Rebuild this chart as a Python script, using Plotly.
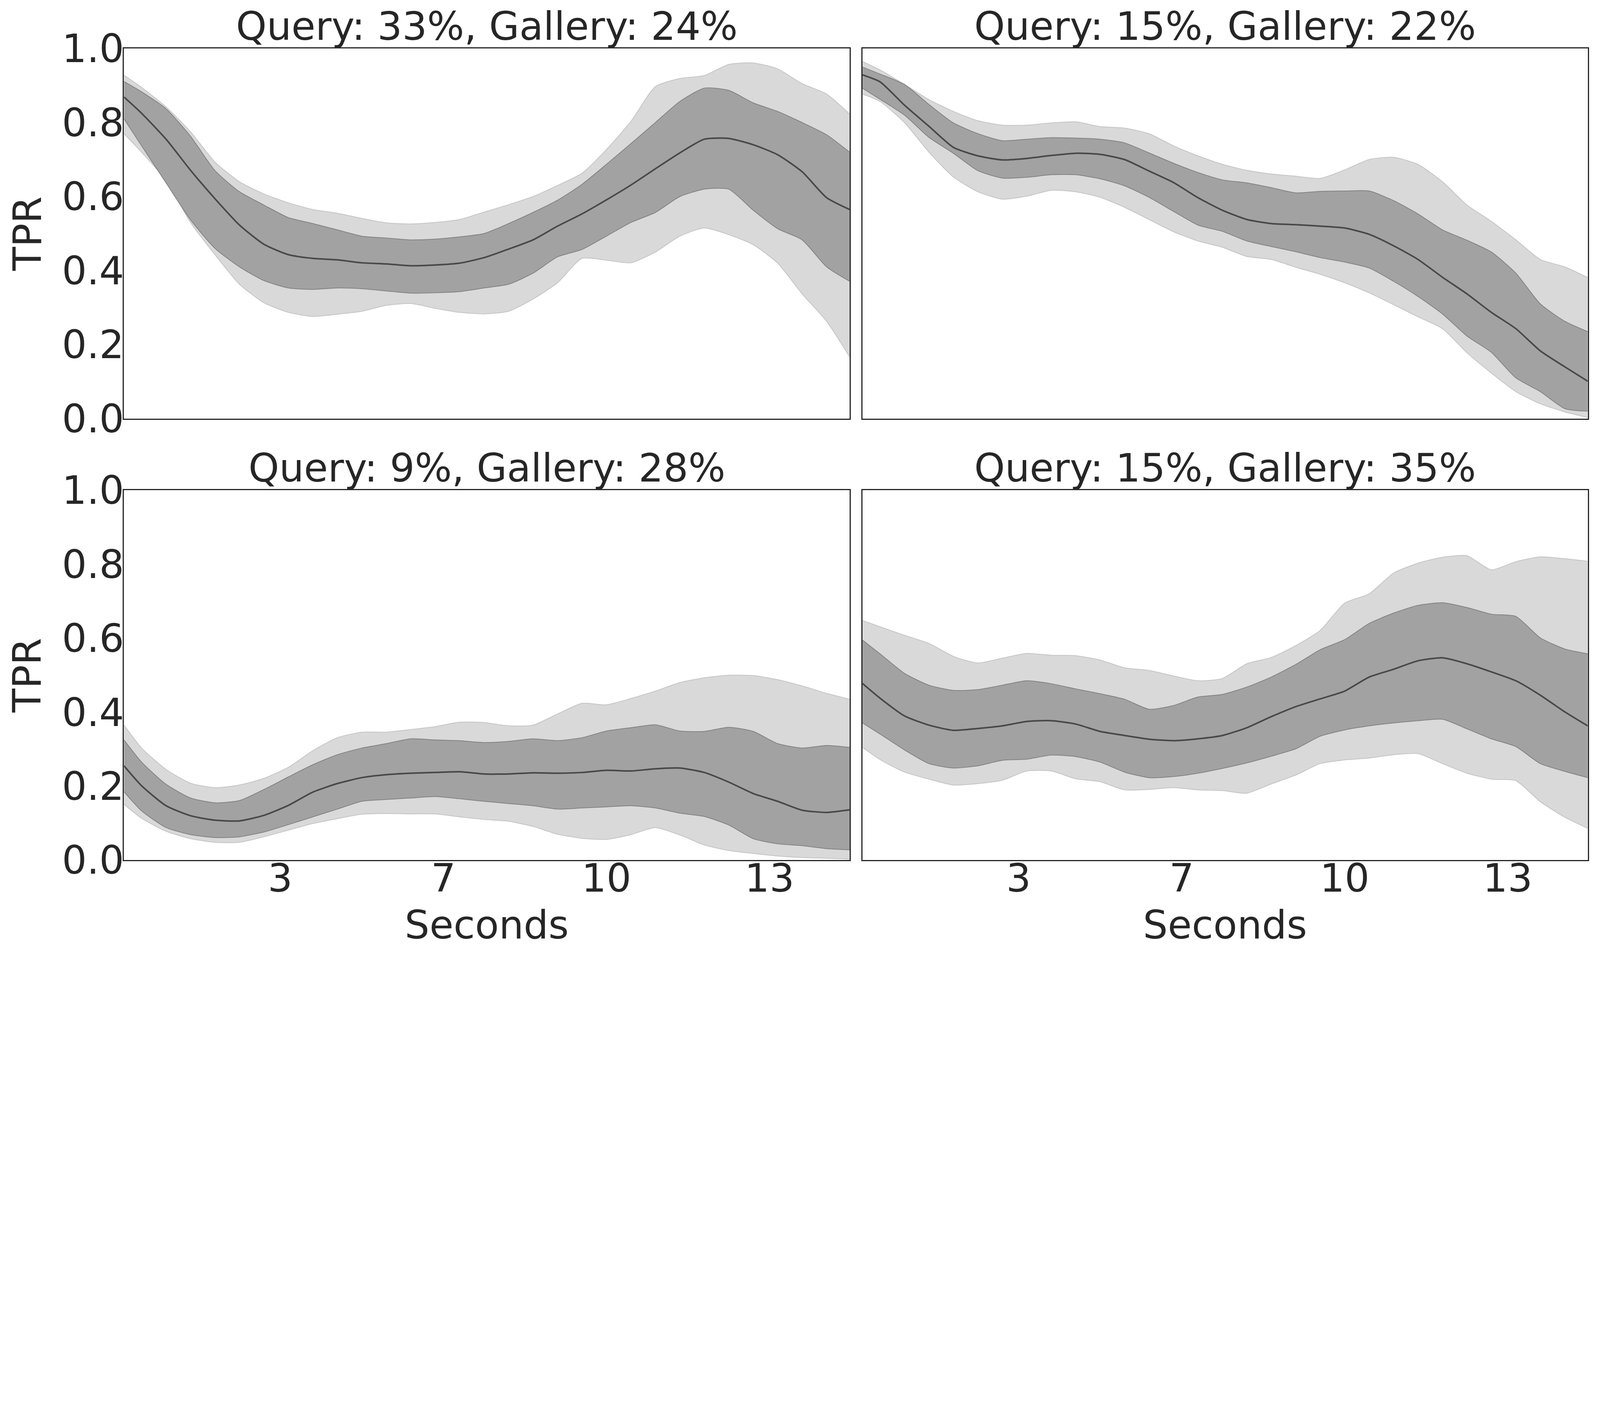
import plotly.graph_objects as go

# ---------------- data ----------------
SECONDS = [0.14, 0.5, 1.0, 1.5, 2.0, 2.5, 3.0, 3.5, 4.0, 4.5, 5.0, 5.5, 6.0, 6.5, 7.0,
           7.5, 8.0, 8.5, 9.0, 9.5, 10.0, 10.5, 11.0, 11.5, 12.0, 12.5, 13.0, 13.5,
           14.0, 14.5, 14.97]

TITLES = ["Query: 33%, Gallery: 24%", "Query: 15%, Gallery: 22%",
          "Query: 9%, Gallery: 28%", "Query: 15%, Gallery: 35%"]

X_TICK_VALUES = [10 / 3, 20 / 3, 10.0, 40 / 3]
X_TICK_LABELS = ["3", "7", "10", "13"]
Y_TICK_VALUES = [0.0, 0.2, 0.4, 0.6, 0.8, 1.0]

# Panel 1: Query 33%, Gallery 24%
p1_median = [0.869, 0.825, 0.755, 0.671, 0.594, 0.523, 0.471, 0.443, 0.433, 0.429, 0.421,
             0.418, 0.413, 0.415, 0.420, 0.435, 0.458, 0.483, 0.520, 0.553, 0.591, 0.631,
             0.675, 0.718, 0.755, 0.757, 0.740, 0.713, 0.667, 0.597, 0.565]
p1_inner_hi = [0.911, 0.883, 0.837, 0.763, 0.670, 0.613, 0.577, 0.543, 0.527, 0.510, 0.493,
               0.488, 0.483, 0.485, 0.491, 0.500, 0.527, 0.557, 0.590, 0.633, 0.687, 0.743,
               0.800, 0.857, 0.893, 0.887, 0.853, 0.830, 0.800, 0.767, 0.720]
p1_inner_lo = [0.810, 0.737, 0.637, 0.537, 0.460, 0.410, 0.373, 0.353, 0.349, 0.353, 0.351,
               0.345, 0.339, 0.340, 0.343, 0.353, 0.363, 0.393, 0.437, 0.457, 0.493, 0.530,
               0.557, 0.600, 0.620, 0.620, 0.563, 0.513, 0.483, 0.410, 0.371]
p1_outer_hi = [0.928, 0.895, 0.842, 0.775, 0.693, 0.640, 0.607, 0.583, 0.565, 0.555, 0.541,
               0.529, 0.526, 0.530, 0.538, 0.558, 0.578, 0.600, 0.630, 0.663, 0.727, 0.803,
               0.897, 0.919, 0.927, 0.957, 0.961, 0.945, 0.905, 0.877, 0.823]
p1_outer_lo = [0.770, 0.720, 0.643, 0.530, 0.443, 0.363, 0.313, 0.287, 0.276, 0.282, 0.290,
               0.306, 0.311, 0.298, 0.287, 0.283, 0.290, 0.323, 0.367, 0.433, 0.428, 0.421,
               0.450, 0.493, 0.515, 0.497, 0.470, 0.420, 0.337, 0.263, 0.167]

# Panel 2: Query 15%, Gallery 22%
p2_median = [0.929, 0.910, 0.847, 0.790, 0.733, 0.710, 0.699, 0.703, 0.711, 0.717, 0.714,
             0.700, 0.669, 0.638, 0.597, 0.563, 0.538, 0.527, 0.524, 0.520, 0.515, 0.498,
             0.467, 0.430, 0.382, 0.337, 0.287, 0.243, 0.183, 0.140, 0.101]
p2_inner_hi = [0.950, 0.931, 0.903, 0.849, 0.799, 0.770, 0.751, 0.755, 0.759, 0.758, 0.755,
               0.745, 0.718, 0.690, 0.665, 0.645, 0.637, 0.624, 0.610, 0.614, 0.615, 0.615,
               0.589, 0.553, 0.510, 0.482, 0.450, 0.393, 0.310, 0.263, 0.235]
p2_inner_lo = [0.893, 0.863, 0.820, 0.760, 0.717, 0.670, 0.650, 0.652, 0.659, 0.659, 0.648,
               0.629, 0.598, 0.560, 0.523, 0.506, 0.480, 0.465, 0.451, 0.435, 0.423, 0.407,
               0.371, 0.330, 0.283, 0.223, 0.179, 0.110, 0.073, 0.027, 0.020]
p2_outer_hi = [0.965, 0.942, 0.903, 0.862, 0.830, 0.805, 0.793, 0.793, 0.799, 0.802, 0.789,
               0.785, 0.770, 0.737, 0.710, 0.687, 0.671, 0.661, 0.655, 0.649, 0.672, 0.700,
               0.706, 0.687, 0.640, 0.577, 0.533, 0.483, 0.430, 0.410, 0.381]
p2_outer_lo = [0.877, 0.857, 0.800, 0.720, 0.653, 0.613, 0.593, 0.601, 0.617, 0.613, 0.598,
               0.571, 0.538, 0.505, 0.480, 0.463, 0.438, 0.430, 0.409, 0.390, 0.367, 0.340,
               0.308, 0.275, 0.243, 0.178, 0.123, 0.073, 0.040, 0.018, 0.003]

# Panel 3: Query 9%, Gallery 28%
p3_median = [0.255, 0.201, 0.147, 0.120, 0.108, 0.106, 0.121, 0.148, 0.184, 0.207, 0.223,
             0.231, 0.235, 0.237, 0.239, 0.233, 0.233, 0.236, 0.235, 0.237, 0.243, 0.241,
             0.247, 0.249, 0.237, 0.211, 0.180, 0.159, 0.135, 0.129, 0.136]
p3_inner_hi = [0.325, 0.265, 0.205, 0.168, 0.155, 0.161, 0.191, 0.225, 0.258, 0.285, 0.303,
               0.315, 0.328, 0.325, 0.323, 0.318, 0.321, 0.328, 0.323, 0.331, 0.349, 0.358,
               0.366, 0.349, 0.348, 0.359, 0.348, 0.315, 0.303, 0.310, 0.305]
p3_inner_lo = [0.185, 0.133, 0.088, 0.069, 0.061, 0.063, 0.076, 0.096, 0.117, 0.138, 0.159,
               0.164, 0.168, 0.172, 0.166, 0.159, 0.153, 0.147, 0.138, 0.141, 0.144, 0.147,
               0.141, 0.127, 0.118, 0.095, 0.058, 0.044, 0.039, 0.031, 0.028]
p3_outer_hi = [0.365, 0.303, 0.245, 0.208, 0.196, 0.203, 0.221, 0.251, 0.296, 0.331, 0.346,
               0.346, 0.353, 0.361, 0.373, 0.372, 0.363, 0.365, 0.395, 0.424, 0.420, 0.437,
               0.457, 0.480, 0.493, 0.500, 0.499, 0.488, 0.471, 0.451, 0.435]
p3_outer_lo = [0.151, 0.113, 0.078, 0.058, 0.048, 0.048, 0.063, 0.081, 0.099, 0.112, 0.124,
               0.126, 0.125, 0.125, 0.117, 0.110, 0.105, 0.091, 0.070, 0.059, 0.056, 0.069,
               0.088, 0.068, 0.041, 0.026, 0.018, 0.011, 0.007, 0.005, 0.003]

# Panel 4: Query 15%, Gallery 35%
p4_median = [0.478, 0.438, 0.390, 0.365, 0.351, 0.356, 0.363, 0.375, 0.377, 0.368, 0.348,
             0.337, 0.327, 0.323, 0.328, 0.337, 0.358, 0.388, 0.415, 0.436, 0.457, 0.495,
             0.516, 0.539, 0.547, 0.531, 0.509, 0.485, 0.446, 0.401, 0.363]
p4_inner_hi = [0.595, 0.558, 0.505, 0.473, 0.459, 0.461, 0.473, 0.485, 0.477, 0.463, 0.450,
               0.435, 0.408, 0.418, 0.441, 0.448, 0.468, 0.495, 0.529, 0.569, 0.596, 0.640,
               0.668, 0.689, 0.696, 0.683, 0.665, 0.659, 0.601, 0.571, 0.558]
p4_inner_lo = [0.371, 0.341, 0.298, 0.261, 0.249, 0.255, 0.270, 0.273, 0.284, 0.280, 0.265,
               0.238, 0.223, 0.226, 0.235, 0.248, 0.263, 0.281, 0.301, 0.335, 0.352, 0.363,
               0.371, 0.377, 0.381, 0.355, 0.328, 0.307, 0.261, 0.240, 0.223]
p4_outer_hi = [0.648, 0.631, 0.608, 0.586, 0.551, 0.533, 0.546, 0.559, 0.554, 0.553, 0.541,
               0.520, 0.513, 0.498, 0.485, 0.491, 0.531, 0.548, 0.580, 0.621, 0.695, 0.720,
               0.776, 0.803, 0.819, 0.823, 0.785, 0.807, 0.820, 0.815, 0.808]
p4_outer_lo = [0.305, 0.272, 0.238, 0.219, 0.203, 0.207, 0.216, 0.241, 0.241, 0.220, 0.212,
               0.190, 0.191, 0.196, 0.190, 0.188, 0.181, 0.206, 0.230, 0.261, 0.271, 0.276,
               0.285, 0.288, 0.261, 0.235, 0.219, 0.215, 0.158, 0.116, 0.086]

PANELS = [
    (p1_median, p1_inner_lo, p1_inner_hi, p1_outer_lo, p1_outer_hi),
    (p2_median, p2_inner_lo, p2_inner_hi, p2_outer_lo, p2_outer_hi),
    (p3_median, p3_inner_lo, p3_inner_hi, p3_outer_lo, p3_outer_hi),
    (p4_median, p4_inner_lo, p4_inner_hi, p4_outer_lo, p4_outer_hi),
]

# ---------------- geometry ----------------
# The page is shown in a viewport about 4096 CSS px wide, with the default 8 px
# body margin; reference pixel positions are converted with this factor.
DPR = 6000 / 4096
MARGIN = 8
FIG_W = 4080
FIG_H = 2441


def px(d):
    return d / DPR


def xfrac(d):
    return (d / DPR - MARGIN) / FIG_W


def yfrac(d):
    return 1 - (d / DPR - MARGIN) / FIG_H


FONT = "DejaVu Sans"
TXT = "#262626"
FS = round(px(147))
LIGHT_FILL = "rgb(217,217,217)"
LIGHT_EDGE = "rgb(196,196,196)"
DARK_FILL = "rgb(162,162,162)"
DARK_EDGE = "rgb(130,130,130)"
MED = "rgb(72,72,72)"

X_DOMAINS = [[xfrac(465), xfrac(3186)], [xfrac(3234), xfrac(5954)]]
Y_DOMAINS = [[yfrac(1570), yfrac(182)], [yfrac(3226), yfrac(1839)]]
X_RANGE = [0.14, 14.97]

fig = go.Figure()
layout = dict(
    width=FIG_W, height=FIG_H,
    margin=dict(l=0, r=0, t=0, b=0, pad=0, autoexpand=False),
    paper_bgcolor="white", plot_bgcolor="white", showlegend=False,
    font=dict(family=FONT, size=FS, color=TXT),
)
annotations = []

for i, (med, ilo, ihi, olo, ohi) in enumerate(PANELS):
    row, col = divmod(i, 2)
    n = i + 1
    xa = "x" if n == 1 else f"x{n}"
    ya = "y" if n == 1 else f"y{n}"
    spline = dict(shape="spline", smoothing=0.6)
    fig.add_trace(go.Scatter(x=SECONDS, y=olo, mode="lines", xaxis=xa, yaxis=ya,
                             line=dict(color=LIGHT_EDGE, width=2, **spline), hoverinfo="skip"))
    fig.add_trace(go.Scatter(x=SECONDS, y=ohi, mode="lines", xaxis=xa, yaxis=ya, fill="tonexty",
                             fillcolor=LIGHT_FILL,
                             line=dict(color=LIGHT_EDGE, width=2, **spline), hoverinfo="skip"))
    fig.add_trace(go.Scatter(x=SECONDS, y=ilo, mode="lines", xaxis=xa, yaxis=ya,
                             line=dict(color=DARK_EDGE, width=2, **spline), hoverinfo="skip"))
    fig.add_trace(go.Scatter(x=SECONDS, y=ihi, mode="lines", xaxis=xa, yaxis=ya, fill="tonexty",
                             fillcolor=DARK_FILL,
                             line=dict(color=DARK_EDGE, width=2, **spline), hoverinfo="skip"))
    fig.add_trace(go.Scatter(x=SECONDS, y=med, mode="lines", xaxis=xa, yaxis=ya,
                             line=dict(color=MED, width=4, **spline), hoverinfo="skip"))

    xkey = "xaxis" if n == 1 else f"xaxis{n}"
    ykey = "yaxis" if n == 1 else f"yaxis{n}"
    layout[xkey] = dict(
        domain=X_DOMAINS[col], range=X_RANGE, anchor=ya, automargin=False,
        tickvals=X_TICK_VALUES, ticktext=X_TICK_LABELS,
        showticklabels=(row == 1), ticks="", showgrid=False, zeroline=False,
        showline=True, mirror=True, linecolor=TXT, linewidth=2.7,
        ticklabelstandoff=-42,
        tickfont=dict(family=FONT, size=FS, color=TXT),
    )
    layout[ykey] = dict(
        domain=Y_DOMAINS[row], range=[0, 1], anchor=xa, automargin=False,
        tickvals=Y_TICK_VALUES, tickformat=".1f",
        showticklabels=(col == 0), ticks="", showgrid=False, zeroline=False,
        showline=True, mirror=True, linecolor=TXT, linewidth=2.7,
        ticklabelstandoff=-23,
        tickfont=dict(family=FONT, size=FS, color=TXT),
    )
    annotations.append(dict(
        text=TITLES[i], xref="paper", yref="paper",
        x=sum(X_DOMAINS[col]) / 2, y=Y_DOMAINS[row][1],
        xanchor="center", yanchor="bottom", yshift=-4, showarrow=False,
        font=dict(family=FONT, size=FS, color=TXT),
    ))
    if col == 0:
        annotations.append(dict(
            text="TPR", xref="paper", yref="paper",
            x=(px(103) - MARGIN) / FIG_W, y=sum(Y_DOMAINS[row]) / 2, textangle=-90,
            xanchor="center", yanchor="middle", showarrow=False,
            font=dict(family=FONT, size=FS, color=TXT),
        ))
    if row == 1:
        annotations.append(dict(
            text="Seconds", xref="paper", yref="paper",
            x=sum(X_DOMAINS[col]) / 2, y=yfrac(3506) - 36 / FIG_H,
            xanchor="center", yanchor="bottom", showarrow=False,
            font=dict(family=FONT, size=FS, color=TXT),
        ))

layout["annotations"] = annotations
fig.update_layout(**layout)
fig.write_html("out.html")
